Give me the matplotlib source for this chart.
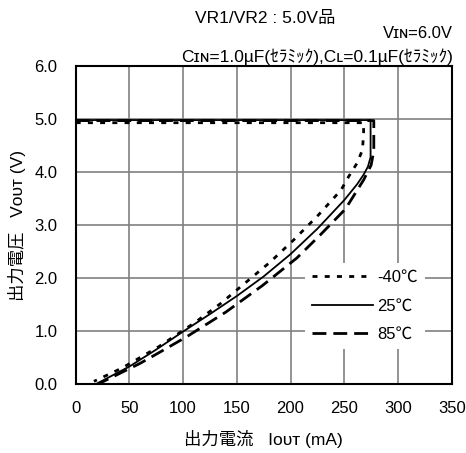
import matplotlib
matplotlib.use("Agg")
import matplotlib.pyplot as plt

plt.rcParams['font.family'] = ['Liberation Sans', 'Noto Sans CJK JP', 'DejaVu Sans']

# -40C curve (mA, V)
iout_m40 = [0, 268, 268, 267, 262, 254, 247, 226, 203, 181, 158, 135, 111, 77, 43, 17]
vout_m40 = [4.93, 4.93, 4.75, 4.42, 4.17, 3.91, 3.66, 3.19, 2.72, 2.30, 1.91, 1.52, 1.16, 0.70, 0.30, 0.05]
# 25C curve
iout_25 = [0, 274.5, 274.5, 272, 268, 262, 250, 225, 200, 175, 150, 125, 100, 75, 50, 19]
vout_25 = [4.98, 4.98, 4.28, 4.10, 3.95, 3.77, 3.47, 2.93, 2.45, 2.03, 1.66, 1.32, 0.99, 0.65, 0.33, 0.0]
# 85C curve
iout_85 = [0, 277.5, 277.5, 275, 268, 251, 228, 206, 174, 140, 104, 80, 60, 41, 21]
vout_85 = [4.97, 4.97, 4.40, 4.13, 3.85, 3.30, 2.82, 2.38, 1.86, 1.36, 0.90, 0.62, 0.39, 0.20, 0.0]

x_ticks = [0, 50, 100, 150, 200, 250, 300, 350]
y_ticks = [0.0, 1.0, 2.0, 3.0, 4.0, 5.0, 6.0]

fig = plt.figure(figsize=(4.66, 4.53), dpi=100)
ax = fig.add_axes([0.1624, 0.1523, 0.8069, 0.702])

ax.plot(iout_m40, vout_m40, color='black', lw=2.0, dashes=(1.8, 2.6), label='-40\u2103')
ax.plot(iout_25, vout_25, color='black', lw=1.3, label='25\u2103')
ax.plot(iout_85, vout_85, color='black', lw=2.0, dashes=(5, 2.5), label='85\u2103')

ax.set_xlim(0, 350)
ax.set_ylim(0, 6)
ax.set_xticks(x_ticks)
ax.set_yticks(y_ticks)
ax.set_yticklabels([f"{v:.1f}" for v in y_ticks])
ax.tick_params(length=0, labelsize=12)
ax.tick_params(axis='y', pad=13)
ax.tick_params(axis='x', pad=12)
ax.grid(True, color='#808080', lw=1.2)
ax.set_axisbelow(True)
for s in ax.spines.values():
    s.set_linewidth(1.5)
    s.set_color('black')

leg = ax.legend(loc='upper left', bbox_to_anchor=(0.61, 0.38), borderaxespad=0,
                frameon=True, fancybox=False, framealpha=1, edgecolor='none',
                facecolor='white', fontsize=12, handlelength=3.7,
                labelspacing=0.82, handletextpad=0.25, borderpad=0.4)

ax.set_xlabel('出力電流   I\u1d0f\u1d1c\u1d1b (mA)', fontsize=12.5, labelpad=10)
ax.set_ylabel('出力電圧   V\u1d0f\u1d1c\u1d1b (V)', fontsize=12.5, labelpad=6)

fig.text(265 / 466, 1 - 18 / 453, 'VR1/VR2 : 5.0V品', ha='center', va='center', fontsize=12.5)
fig.text(453 / 466, 1 - 33 / 453, 'V\u026a\u0274=6.0V', ha='right', va='center', fontsize=12)
fig.text(453 / 466, 1 - 57 / 453, 'C\u026a\u0274=1.0µF(ｾﾗﾐｯｸ),C\u029f=0.1µF(ｾﾗﾐｯｸ)',
         ha='right', va='center', fontsize=12.5)

fig.savefig('out.png', dpi=100)
